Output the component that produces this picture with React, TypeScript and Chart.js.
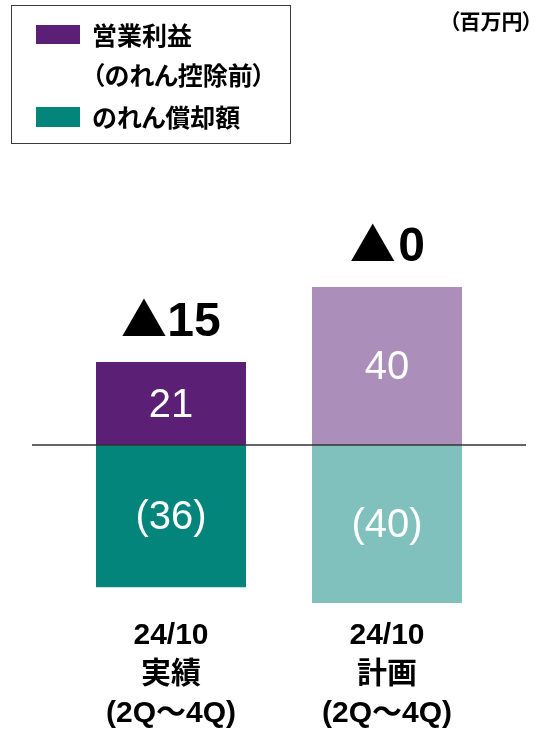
import React, { useEffect, useRef } from "react";
import { Chart, registerables } from "chart.js";

Chart.register(...registerables);

// ---- data ----
const categories = [
  ["24/10", "実績", "(2Q～4Q)"],
  ["24/10", "計画", "(2Q～4Q)"],
];
const seriesNames = ["営業利益（のれん控除前）", "のれん償却額"];
const legendLines = [["営業利益", "（のれん控除前）"], ["のれん償却額"]];
const operatingProfit = [21, 40];
const goodwillAmortization = [-36, -40];
const netLabels = ["▲15", "▲0"];
const unitLabel = "（百万円）";
const profitColors = ["#5B1F76", "#AB8EBA"];
const amortColors = ["#03857B", "#81C1BD"];
const legendColors = ["#5B1F76", "#03857B"];
const yMin = -42;
const yMax = 62;

const LATIN = '"Liberation Sans", Arial, "Noto Sans CJK JP", sans-serif';
const CJK = '"Noto Sans CJK JP", "Liberation Sans", sans-serif';

const fmt = (v: number) => (v < 0 ? `(${-v})` : `${v}`);

const overlayPlugin = {
  id: "overlay",
  afterDatasetsDraw(chart: any) {
    const ctx = chart.ctx as CanvasRenderingContext2D;
    const { left, right } = chart.chartArea;
    const y0 = chart.scales.y.getPixelForValue(0);

    // value labels inside bars
    chart.data.datasets.forEach((ds: any, di: number) => {
      const meta = chart.getDatasetMeta(di);
      meta.data.forEach((bar: any, i: number) => {
        const v = ds.data[i] as number;
        const p = bar.getProps(["x", "y", "base"], true);
        ctx.save();
        ctx.fillStyle = "#ffffff";
        ctx.font = `40px ${LATIN}`;
        ctx.textAlign = "center";
        ctx.textBaseline = "middle";
        ctx.fillText(fmt(v), p.x, (p.y + p.base) / 2 + 2);
        ctx.restore();
      });
    });

    // zero line
    ctx.save();
    ctx.strokeStyle = "#333333";
    ctx.lineWidth = 1.3;
    ctx.beginPath();
    ctx.moveTo(left - 31, y0);
    ctx.lineTo(right + 31, y0);
    ctx.stroke();
    ctx.restore();

    // net totals above bars (triangle + digits)
    const digitSize = 48;
    const meta0 = chart.getDatasetMeta(0);
    meta0.data.forEach((bar: any, i: number) => {
      const p = bar.getProps(["x", "y"], true);
      const label = netLabels[i];
      const tri = label.slice(0, 1);
      const digits = label.slice(1);
      ctx.save();
      ctx.fillStyle = "#000000";
      ctx.textBaseline = "alphabetic";
      ctx.textAlign = "left";
      // size the triangle glyph relative to the digit size
      ctx.font = `bold 100px ${CJK}`;
      const m100 = ctx.measureText(tri);
      const w100 = m100.actualBoundingBoxLeft + m100.actualBoundingBoxRight;
      const triSize = (100 * digitSize * 0.9) / w100;
      ctx.font = `bold ${triSize}px ${CJK}`;
      const mt = ctx.measureText(tri);
      const triW = mt.actualBoundingBoxLeft + mt.actualBoundingBoxRight;
      ctx.font = `bold ${digitSize}px ${LATIN}`;
      const md = ctx.measureText(digits);
      const digW = md.actualBoundingBoxLeft + md.actualBoundingBoxRight;
      const gap = digitSize * 0.09;
      const total = triW + gap + digW;
      const baseY = p.y - 26;
      const startX = p.x - total / 2;
      ctx.font = `bold ${triSize}px ${CJK}`;
      ctx.fillText(tri, startX + mt.actualBoundingBoxLeft, baseY - mt.actualBoundingBoxDescent);
      ctx.font = `bold ${digitSize}px ${LATIN}`;
      ctx.fillText(digits, startX + triW + gap + md.actualBoundingBoxLeft, baseY);
      ctx.restore();
    });
  },
};

export default function App() {
  const canvasRef = useRef<HTMLCanvasElement | null>(null);

  useEffect(() => {
    if (!canvasRef.current) return;
    const chart = new Chart(canvasRef.current, {
      type: "bar",
      data: {
        labels: categories as any,
        datasets: [
          {
            label: seriesNames[0],
            data: operatingProfit,
            backgroundColor: profitColors,
            borderWidth: 0,
            categoryPercentage: 0.6944,
            barPercentage: 1,
          },
          {
            label: seriesNames[1],
            data: goodwillAmortization,
            backgroundColor: amortColors,
            borderWidth: 0,
            categoryPercentage: 0.6944,
            barPercentage: 1,
          },
        ],
      },
      options: {
        responsive: false,
        animation: false,
        devicePixelRatio: 1,
        layout: { padding: { left: 63, right: 42, top: 200, bottom: 0 } },
        plugins: {
          legend: { display: false },
          tooltip: { enabled: false },
          title: { display: false },
        },
        scales: {
          x: {
            stacked: true,
            grid: { display: false, drawTicks: false },
            border: { display: false },
            ticks: {
              color: "#000000",
              padding: 5.5,
              maxRotation: 0,
              autoSkip: false,
              font: { family: LATIN, weight: "bold", size: 30, lineHeight: 1.3 },
            },
            afterFit: (scale: any) => {
              scale.height = 123;
            },
          },
          y: {
            stacked: true,
            display: false,
            min: yMin,
            max: yMax,
          },
        },
      },
      plugins: [overlayPlugin],
    } as any);
    return () => chart.destroy();
  }, []);

  const textBase: React.CSSProperties = {
    position: "absolute",
    fontFamily: CJK,
    fontWeight: 700,
    fontSize: 25,
    lineHeight: "25px",
    color: "#000",
    whiteSpace: "nowrap",
    fontFeatureSettings: '"palt"',
  };

  return (
    <div
      style={{
        position: "fixed",
        left: 0,
        top: 0,
        width: 537,
        height: 734,
        background: "#ffffff",
        overflow: "hidden",
      }}
    >
      <canvas
        ref={canvasRef}
        width={537}
        height={734}
        style={{ position: "absolute", left: 0, top: 0, width: 537, height: 734 }}
      />
      {/* legend */}
      <div
        style={{
          position: "absolute",
          left: 11,
          top: 5,
          width: 280,
          height: 139,
          boxSizing: "border-box",
          border: "1.5px solid #3a3a3a",
        }}
      />
      <div style={{ position: "absolute", left: 36, top: 25, width: 44, height: 19, background: legendColors[0] }} />
      <div style={{ ...textBase, left: 92, top: 22 }}>{legendLines[0][0]}</div>
      <div style={{ ...textBase, left: 92, top: 62 }}>{legendLines[0][1]}</div>
      <div style={{ position: "absolute", left: 36, top: 107, width: 44, height: 20, background: legendColors[1] }} />
      <div style={{ ...textBase, left: 92, top: 104 }}>{legendLines[1][0]}</div>
      {/* unit */}
      <div
        style={{
          ...textBase,
          fontSize: 21,
          lineHeight: "21px",
          right: 4,
          top: 10,
        }}
      >
        {unitLabel}
      </div>
    </div>
  );
}
